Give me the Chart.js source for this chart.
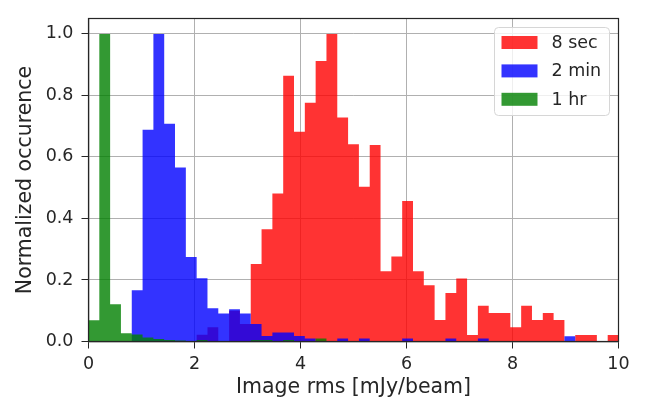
<!DOCTYPE html>
<html>
<head>
<meta charset="utf-8">
<script src="https://cdn.jsdelivr.net/npm/chart.js@4/dist/chart.umd.min.js"></script>
<style>
  html, body { margin: 0; padding: 0; background: #fff; }
  .chart-wrap { width: 649px; height: 407px; position: relative; }
</style>
</head>
<body>
<div class="chart-wrap"><canvas id="rmsChart"></canvas></div>
<script>
// data (49 equal bins between 0 and 10 mJy/beam)
const binStart = 0;
const binEnd = 10;
const seriesLabels = ['8 sec', '2 min', '1 hr'];
const sec8Values = [
  0, 0, 0, 0, 0, 0, 0, 0, 0, 0,
  0.022, 0.046, 0, 0.100, 0.057, 0.252, 0.365, 0.481, 0.864, 0.682,
  0.776, 0.912, 1.0, 0.728, 0.641, 0.503, 0.639, 0.228, 0.276, 0.457,
  0.228, 0.183, 0.070, 0.158, 0.205, 0.021, 0.116, 0.093, 0.093, 0.046,
  0.116, 0.070, 0.093, 0.070, 0, 0.021, 0.021, 0, 0.021
];
const min2Values = [
  0, 0, 0, 0, 0.167, 0.688, 1.0, 0.708, 0.566, 0.275,
  0.206, 0.108, 0.091, 0.105, 0.091, 0.057, 0.018, 0.029, 0.029, 0.018,
  0.010, 0, 0, 0.010, 0, 0.010, 0, 0, 0, 0.010,
  0, 0, 0, 0.010, 0, 0, 0.010, 0, 0, 0,
  0, 0, 0, 0, 0.017, 0, 0, 0, 0
];
const hr1Values = [
  0.069, 1.0, 0.121, 0.027, 0.023, 0.013, 0.008, 0.005, 0.003, 0,
  0.005, 0, 0, 0, 0, 0.005, 0.005, 0, 0.005, 0,
  0, 0.010, 0, 0, 0, 0, 0, 0, 0, 0,
  0, 0, 0, 0, 0, 0, 0, 0, 0, 0,
  0, 0, 0, 0, 0, 0, 0, 0, 0
];
const xTicks = [0, 2, 4, 6, 8, 10];
const yTicks = [0, 0.2, 0.4, 0.6, 0.8, 1.0];

// utils
const fontFamily = "'DejaVu Sans', sans-serif";
const inkColor = '#262626';

// each bin as a step starting at its left edge, closed at the right end of the range
function binSteps(values) {
  const width = (binEnd - binStart) / values.length;
  const points = values.map((v, i) => ({ x: binStart + i * width, y: v }));
  points.push({ x: binEnd, y: values[values.length - 1] });
  return points;
}

function histDataset(label, values, color, order) {
  return {
    label,
    data: binSteps(values),
    backgroundColor: color,
    borderColor: color,
    borderWidth: 0,
    pointRadius: 0,
    stepped: 'before',
    fill: 'origin',
    order,
  };
}

// plugins
const frameBox = {
  id: 'frameBox',
  afterDraw(chart) {
    const { ctx, chartArea: a } = chart;
    ctx.save();
    ctx.strokeStyle = inkColor;
    ctx.lineWidth = 1.2;
    ctx.strokeRect(a.left, a.top, a.right - a.left, a.bottom - a.top);
    ctx.restore();
  }
};

const insideLegend = {
  id: 'insideLegend',
  afterDraw(chart) {
    const { ctx, chartArea: a } = chart;
    const w = 115, h = 88;
    const left = a.right - 9 - w;
    const top = a.top + 9;
    ctx.save();
    ctx.beginPath();
    ctx.roundRect(left, top, w, h, 4);
    ctx.fillStyle = 'rgba(255,255,255,0.8)';
    ctx.fill();
    ctx.strokeStyle = '#d6d6d6';
    ctx.lineWidth = 1;
    ctx.stroke();
    ctx.font = '17.5px ' + fontFamily;
    ctx.textBaseline = 'middle';
    ctx.textAlign = 'left';
    chart.data.datasets.forEach((ds, i) => {
      const cy = top + 15 + i * 28.4;
      ctx.fillStyle = ds.backgroundColor;
      ctx.fillRect(left + 7, cy - 6.5, 36, 13);
      ctx.fillStyle = inkColor;
      ctx.fillText(ds.label, left + 57, cy + 1);
    });
    ctx.restore();
  }
};

// chart
const ctx = document.getElementById('rmsChart').getContext('2d');
new Chart(ctx, {
  type: 'line',
  data: {
    datasets: [
      histDataset(seriesLabels[0], sec8Values, 'rgba(255,0,0,0.8)', 3),
      histDataset(seriesLabels[1], min2Values, 'rgba(0,0,255,0.8)', 2),
      histDataset(seriesLabels[2], hr1Values, 'rgba(0,128,0,0.8)', 1),
    ]
  },
  options: {
    responsive: true,
    maintainAspectRatio: false,
    animation: false,
    layout: { padding: { left: 0, right: 30.5, top: 4.5, bottom: 0 } },
    plugins: {
      legend: { display: false },
      tooltip: { enabled: false },
    },
    scales: {
      x: {
        type: 'linear',
        min: binStart,
        max: binEnd,
        offset: false,
        z: 1,
        afterBuildTicks: (axis) => { axis.ticks = xTicks.map(v => ({ value: v })); },
        afterFit: (axis) => { axis.height = 65.5; },
        grid: { offset: false, color: '#b0b0b0', lineWidth: 1, tickColor: inkColor, tickLength: 7 },
        border: { color: inkColor, width: 1.2 },
        ticks: {
          color: inkColor,
          padding: 5,
          maxRotation: 0,
          font: { family: fontFamily, size: 17.5 },
          callback: (v) => String(v),
        },
        title: {
          display: true,
          text: 'Image rms [mJy/beam]',
          color: inkColor,
          font: { family: fontFamily, size: 20.5 },
          padding: { top: 0, bottom: 7 },
        },
      },
      y: {
        min: 0,
        max: 1.05,
        z: 1,
        afterBuildTicks: (axis) => { axis.ticks = yTicks.map(v => ({ value: v })); },
        afterFit: (axis) => { axis.width = 88.5; },
        grid: { color: '#b0b0b0', lineWidth: 1, tickColor: inkColor, tickLength: 7 },
        border: { color: inkColor, width: 1.2 },
        ticks: {
          color: inkColor,
          padding: 8,
          font: { family: fontFamily, size: 17.5 },
          callback: (v) => v.toFixed(1),
        },
        title: {
          display: true,
          text: 'Normalized occurence',
          color: inkColor,
          font: { family: fontFamily, size: 20.5 },
          padding: { top: 13, bottom: 0 },
        },
      },
    },
  },
  plugins: [frameBox, insideLegend],
});
</script>
</body>
</html>
